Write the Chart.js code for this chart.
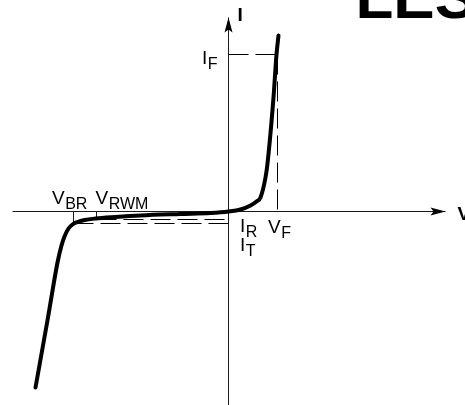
<!DOCTYPE html>
<html>
<head>
<meta charset="utf-8">
<script src="https://cdn.jsdelivr.net/npm/chart.js@4.4.1/dist/chart.umd.min.js"></script>
<style>
  html, body { margin: 0; padding: 0; background: #fff; }
  #wrap { position: relative; width: 465px; height: 405px; overflow: hidden; }
</style>
</head>
<body>
<div id="wrap"><canvas id="ivChart"></canvas></div>
<script>
// --- Data (arbitrary units: V to the right, I upward) ---
const curveV = [-19.3, -18.05, -17.1, -16.7, -16.4, -16.0, -15.6, -15.1, -14.4, -13.3, -11.3, -8.8, -4.8, -1.8, 0, 1.2, 2.2, 2.8, 3.2, 3.7, 3.9, 4.5, 4.8, 5.0];
const curveI = [-17.6, -10.6, -5.1, -3.4, -2.5, -1.7, -1.3, -1.05, -0.85, -0.7, -0.55, -0.4, -0.25, -0.15, 0, 0.2, 0.6, 1.0, 1.4, 3.4, 4.8, 11.4, 15.7, 17.6];

// reference levels
const vF = 4.9;
const iF = 15.7;
const vBR = -15.5;
const vRWM = -13.2;
const iR = -0.8;
const iT = -1.2;

// axis extents and visible window
const vAxis = [-21.6, 21.7];
const iAxis = [-19.6, 19.4];
const vRange = [-22.85, 23.65];
const iRange = [-19.35, 21.15];

const FONT = '"Liberation Sans", Arial, Helvetica, sans-serif';

const pts = (xs, ys) => xs.map((v, i) => ({ x: v, y: ys[i] }));

// --- Helpers for the overlay ---
const arrowHead = (ctx, tx, ty, dx, dy) => {
  const len = 15, half = 4, notch = 3;
  const px = -dy, py = dx;
  ctx.beginPath();
  ctx.moveTo(tx, ty);
  ctx.lineTo(tx - dx * len + px * half, ty - dy * len + py * half);
  ctx.lineTo(tx - dx * (len - notch), ty - dy * (len - notch));
  ctx.lineTo(tx - dx * len - px * half, ty - dy * len - py * half);
  ctx.closePath();
  ctx.fill();
};

const subLabel = (ctx, main, sub, x, y) => {
  ctx.font = "19px " + FONT;
  ctx.fillText(main, x, y);
  const w = ctx.measureText(main).width;
  ctx.font = "16px " + FONT;
  ctx.fillText(sub, x + w + 0.5, y + 5);
};

const annotate = {
  id: "annotate",
  afterDatasetsDraw(chart) {
    const { ctx, scales: { x, y } } = chart;
    const ox = x.getPixelForValue(0);
    const oy = y.getPixelForValue(0);
    ctx.save();
    ctx.fillStyle = "#000";
    ctx.textBaseline = "alphabetic";

    // arrows on the axes
    const topY = y.getPixelForValue(iAxis[1]);
    const rightX = x.getPixelForValue(vAxis[1]);
    arrowHead(ctx, ox, topY, 0, -1);
    arrowHead(ctx, rightX, oy, 1, 0);

    // axis names
    ctx.font = "bold 19px " + FONT;
    ctx.fillText("I", ox + 9, topY + 3);
    ctx.fillText("V", rightX + 12, oy + 8);

    // point labels
    subLabel(ctx, "I", "F", ox - 26.5, y.getPixelForValue(iF) + 9);
    subLabel(ctx, "V", "F", x.getPixelForValue(vF) - 9.5, oy + 21.5);
    subLabel(ctx, "I", "R", ox + 11.5, oy + 20.7);
    subLabel(ctx, "I", "T", ox + 11.5, oy + 39);
    subLabel(ctx, "V", "BR", x.getPixelForValue(vBR) - 21.5, oy - 8);
    subLabel(ctx, "V", "RWM", x.getPixelForValue(vRWM) - 1, oy - 8);

    // page heading cut by the top edge
    ctx.font = "bold 62px " + FONT;
    ctx.fillText("LES", chart.width - 109.5, 18);
    ctx.restore();
  },
};

const dashed = { borderColor: "#000", borderWidth: 1, borderDash: [20, 7], order: 2 };
const thin = { borderColor: "#1a1a1a", borderWidth: 1, order: 3 };

new Chart(document.getElementById("ivChart"), {
  type: "scatter",
  data: {
    datasets: [
      {
        data: pts(curveV, curveI),
        borderColor: "#000",
        borderWidth: 4,
        borderJoinStyle: "round",
        borderCapStyle: "round",
        cubicInterpolationMode: "monotone",
        order: 0,
      },
      { data: pts([0, vF - 0.1], [iF, iF]), ...dashed },
      { data: pts([vF, vF], [iF, 0]), ...dashed },
      { data: pts([vRWM, 0], [iR, iR]), ...dashed },
      { data: pts([vBR, 0], [iT, iT]), ...dashed },
      { data: pts([vBR, vBR], [0, iT]), ...thin },
      { data: pts([vRWM, vRWM], [0, iR]), ...thin },
      { data: pts(vAxis, [0, 0]), ...thin },
      { data: pts([0, 0], iAxis), ...thin },
    ],
  },
  options: {
    responsive: true,
    maintainAspectRatio: false,
    animation: false,
    layout: { padding: 0 },
    showLine: true,
    clip: false,
    elements: { point: { radius: 0, hoverRadius: 0 } },
    plugins: { legend: { display: false }, tooltip: { enabled: false } },
    scales: {
      x: { type: "linear", display: false, min: vRange[0], max: vRange[1] },
      y: { type: "linear", display: false, min: iRange[0], max: iRange[1] },
    },
  },
  plugins: [annotate],
});
</script>
</body>
</html>
